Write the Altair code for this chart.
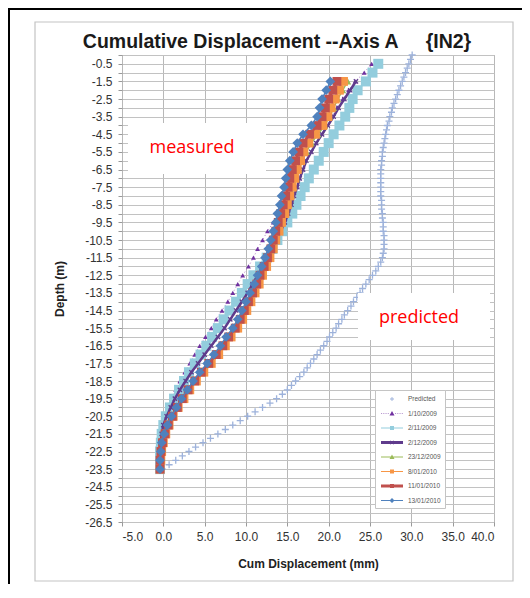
import altair as alt
import pandas as pd

# ---------------- data ----------------
SERIES = ["Predicted", "1/10/2009", "2/11/2009", "2/12/2009", "23/12/2009",
          "8/01/2010", "11/01/2010", "13/01/2010"]
COLORS = ["#9db2db", "#7030a0", "#93cddd", "#5f3b8c", "#9bbb59",
          "#f79646", "#c0504d", "#4f81bd"]

PRED_DEPTH = [0.0, -0.25, -0.5, -0.75, -1.0, -1.25, -1.5, -1.75, -2.0, -2.25,
              -2.5, -2.75, -3.0, -3.25, -3.5, -3.75, -4.0, -4.25, -4.5, -4.75,
              -5.0, -5.25, -5.5, -5.75, -6.0, -6.25, -6.5, -6.75, -7.0, -7.25,
              -7.5, -7.75, -8.0, -8.25, -8.5, -8.75, -9.0, -9.25, -9.5, -9.75,
              -10.0, -10.25, -10.5, -10.75, -11.0, -11.25, -11.5, -11.75, -12.0, -12.25,
              -12.5, -12.75, -13.0, -13.25, -13.5, -13.75, -14.0, -14.25, -14.5, -14.75,
              -15.0, -15.25, -15.5, -15.75, -16.0, -16.25, -16.5, -16.75, -17.0, -17.25,
              -17.5, -17.75, -18.0, -18.25, -18.5, -18.75, -19.0, -19.25, -19.5, -19.75,
              -20.0, -20.25, -20.5, -20.75, -21.0, -21.25, -21.5, -21.75, -22.0, -22.25,
              -22.5, -22.75, -23.0, -23.25, -23.5]
PRED_DISP = [30.1, 29.9, 29.7, 29.5, 29.3, 29.1, 28.9, 28.7, 28.5, 28.3,
             28.1, 27.9, 27.7, 27.6, 27.4, 27.3, 27.1, 27.0, 26.9, 26.8,
             26.7, 26.6, 26.5, 26.5, 26.4, 26.4, 26.3, 26.3, 26.3, 26.3,
             26.3, 26.3, 26.3, 26.4, 26.4, 26.4, 26.5, 26.5, 26.6, 26.6,
             26.6, 26.7, 26.7, 26.7, 26.7, 26.6, 26.5, 26.3, 26.0, 25.7,
             25.3, 24.9, 24.5, 24.1, 23.8, 23.4, 23.0, 22.7, 22.3, 21.9,
             21.6, 21.2, 20.9, 20.5, 20.1, 19.8, 19.4, 19.0, 18.6, 18.2,
             17.8, 17.4, 17.0, 16.5, 16.0, 15.5, 15.0, 14.4, 13.7, 12.9,
             12.0, 11.1, 10.2, 9.3, 8.4, 7.5, 6.6, 5.7, 4.8, 3.9,
             3.1, 2.3, 1.5, 0.7, -0.1]

DEPTH_FULL = [-0.5, -1.0, -1.5, -2.0, -2.5, -3.0, -3.5, -4.0, -4.5, -5.0,
              -5.5, -6.0, -6.5, -7.0, -7.5, -8.0, -8.5, -9.0, -9.5, -10.0,
              -10.5, -11.0, -11.5, -12.0, -12.5, -13.0, -13.5, -14.0, -14.5, -15.0,
              -15.5, -16.0, -16.5, -17.0, -17.5, -18.0, -18.5, -19.0, -19.5, -20.0,
              -20.5, -21.0, -21.5, -22.0, -22.5, -23.0, -23.5]
DEPTH = DEPTH_FULL[2:]

D_01OCT09 = [25.2, 24.3, 23.2, 22.4, 21.7, 21.0, 20.3, 19.5, 18.7, 17.9,
             17.2, 16.7, 16.3, 15.9, 15.5, 15.1, 14.6, 14.0, 13.3, 12.6,
             12.0, 11.4, 10.9, 10.3, 9.6, 9.0, 8.4, 7.8, 7.1, 6.4,
             5.8, 5.1, 4.4, 3.8, 3.2, 2.6, 2.0, 1.5, 1.0, 0.5,
             0.1, -0.2, -0.3, -0.4, -0.4, -0.4, -0.4]
D_02NOV09 = [26.0, 25.3, 24.5, 23.5, 22.9, 22.5, 22.0, 21.3, 20.6, 20.0,
             19.4, 18.8, 18.2, 17.6, 17.1, 16.6, 16.1, 15.6, 15.0, 14.4,
             13.8, 13.2, 12.5, 11.7, 10.9, 10.2, 9.5, 8.8, 8.0, 7.3,
             6.6, 5.9, 5.2, 4.5, 3.8, 3.1, 2.5, 1.9, 1.3, 0.8,
             0.3, 0.0, -0.2, -0.3, -0.4, -0.4, -0.4]
D_02DEC09 = [23.3, 22.6, 21.9, 21.2, 20.6, 19.9, 19.2, 18.5, 17.9, 17.3,
             16.9, 16.5, 16.2, 15.8, 15.5, 15.1, 14.7, 14.2, 13.7, 13.2,
             12.6, 12.0, 11.4, 10.8, 10.2, 9.5, 8.8, 8.1, 7.4, 6.6,
             5.8, 5.0, 4.2, 3.4, 2.7, 2.0, 1.4, 0.9, 0.4, 0.0,
             -0.2, -0.3, -0.4, -0.4, -0.4]
D_23DEC09 = [22.3, 21.7, 21.1, 20.6, 20.1, 19.5, 18.7, 17.9, 17.3, 16.8,
             16.4, 16.1, 15.8, 15.5, 15.2, 14.8, 14.4, 14.0, 13.6, 13.2,
             12.8, 12.3, 11.8, 11.3, 10.8, 10.2, 9.7, 9.1, 8.5, 7.8,
             7.1, 6.3, 5.5, 4.6, 3.8, 3.0, 2.3, 1.7, 1.1, 0.6,
             0.2, -0.1, -0.3, -0.4, -0.4]
D_08JAN10 = [21.8, 21.3, 20.8, 20.3, 19.9, 19.3, 18.4, 17.6, 17.0, 16.6,
             16.2, 15.9, 15.6, 15.3, 15.0, 14.7, 14.3, 14.0, 13.6, 13.3,
             12.9, 12.5, 12.0, 11.6, 11.1, 10.6, 10.1, 9.6, 9.0, 8.2,
             7.5, 6.7, 5.8, 4.9, 4.0, 3.2, 2.5, 1.8, 1.2, 0.7,
             0.3, 0.0, -0.2, -0.3, -0.4]
D_11JAN10 = [21.0, 20.5, 20.0, 19.6, 19.2, 18.6, 17.7, 16.9, 16.4, 16.0,
             15.6, 15.3, 15.1, 14.8, 14.5, 14.2, 13.9, 13.6, 13.3, 13.0,
             12.6, 12.2, 11.7, 11.3, 10.8, 10.3, 9.8, 9.3, 8.7, 7.9,
             7.2, 6.4, 5.5, 4.6, 3.8, 3.0, 2.3, 1.7, 1.1, 0.6,
             0.2, -0.1, -0.3, -0.4, -0.4]
D_13JAN10 = [20.2, 19.7, 19.2, 18.9, 18.6, 17.9, 16.9, 16.2, 15.7, 15.3,
             15.0, 14.8, 14.6, 14.3, 14.1, 13.8, 13.6, 13.3, 13.0, 12.7,
             12.3, 11.9, 11.4, 11.0, 10.5, 10.0, 9.5, 9.0, 8.4, 7.6,
             6.9, 6.1, 5.3, 4.4, 3.6, 2.9, 2.2, 1.6, 1.0, 0.5,
             0.1, -0.2, -0.3, -0.4, -0.4]

X_TICKS = [-5, 0, 5, 10, 15, 20, 25, 30, 35, 40]
Y_TICKS = [0.0, -0.5, -1.0, -1.5, -2.0, -2.5, -3.0, -3.5, -4.0, -4.5, -5.0, -5.5,
           -6.0, -6.5, -7.0, -7.5, -8.0, -8.5, -9.0, -9.5, -10.0, -10.5, -11.0,
           -11.5, -12.0, -12.5, -13.0, -13.5, -14.0, -14.5, -15.0, -15.5, -16.0,
           -16.5, -17.0, -17.5, -18.0, -18.5, -19.0, -19.5, -20.0, -20.5, -21.0,
           -21.5, -22.0, -22.5, -23.0, -23.5, -24.0, -24.5, -25.0, -25.5, -26.0, -26.5]

TITLE = "Cumulative Displacement --Axis A\u00a0\u00a0\u00a0\u00a0 {IN2}"
FONT = "Liberation Sans"
MINUS = "\u2212"

# ---------------- encodings ----------------
x_axis = alt.Axis(values=X_TICKS, grid=True, gridColor="#b8b8b8", domain=False,
                  tickColor="#999999", tickSize=4, labelPadding=5,
                  labelExpr=f"replace(format(datum.value, '.1f'), '{MINUS}', '-')",
                  labelFont=FONT, labelFontSize=12, labelColor="#333333",
                  title="Cum Displacement (mm)", titleFont=FONT, titleFontSize=12,
                  titleFontWeight="bold", titleColor="#222222", titlePadding=16)
y_axis = alt.Axis(values=Y_TICKS, grid=True, gridColor="#c2c2c2", domain=False,
                  tickColor="#999999", tickSize=4, labelPadding=6, labelOverlap=False,
                  labelExpr=f"(datum.value - floor(datum.value)) > 0.25 ? replace(format(datum.value, '.1f'), '{MINUS}', '-') : ''",
                  labelFont=FONT, labelFontSize=12, labelColor="#333333",
                  title="Depth (m)", titleFont=FONT, titleFontSize=12,
                  titleFontWeight="bold", titleColor="#222222", titlePadding=18)

XENC = alt.X("disp:Q", scale=alt.Scale(domain=[-5, 40], nice=False, zero=False), axis=x_axis)
YENC = alt.Y("depth:Q", scale=alt.Scale(domain=[-26.5, 0], nice=False, zero=False), axis=y_axis)


def frame(depths, values):
    return pd.DataFrame({"depth": depths, "disp": values, "ord": list(range(len(values)))})


def line(df, color, width, dash=None):
    kw = dict(color=color, strokeWidth=width)
    if dash:
        kw["strokeDash"] = dash
    return alt.Chart(df).mark_line(**kw).encode(x=XENC, y=YENC, order="ord:Q")


def pts(df, shape, color, size, filled=True, sw=1):
    return alt.Chart(df).mark_point(shape=shape, color=color, size=size, filled=filled,
                                    opacity=1, strokeWidth=sw).encode(x=XENC, y=YENC)


pred = frame(PRED_DEPTH, PRED_DISP)
s1 = frame(DEPTH_FULL, D_01OCT09)
s2 = frame(DEPTH_FULL, D_02NOV09)
s3 = frame(DEPTH, D_02DEC09)
s4 = frame(DEPTH, D_23DEC09)
s5 = frame(DEPTH, D_08JAN10)
s6 = frame(DEPTH, D_11JAN10)
s7 = frame(DEPTH, D_13JAN10)

data_layers = [
    pts(pred, "M-1,0H1M0,-1V1", COLORS[0], 49, filled=False, sw=1.3),
    line(s1, "#b07cc6", 1, dash=[1, 2.5]),
    pts(s1, "triangle-up", COLORS[1], 24),
    line(s2, COLORS[2], 1.5),
    pts(s2, "square", COLORS[2], 100),
    line(s3, COLORS[3], 2.5),
    pts(s3, "M-1,-1L1,1M-1,1L1,-1", COLORS[3], 18, filled=False, sw=1.3),
    line(s4, COLORS[4], 1.5),
    pts(s4, "triangle-up", COLORS[4], 50),
    line(s5, COLORS[5], 1.5),
    pts(s5, "square", COLORS[5], 78),
    line(s6, COLORS[6], 2.5),
    pts(s6, "square", COLORS[6], 78),
    line(s7, COLORS[7], 1.5),
    pts(s7, "diamond", COLORS[7], 95),
]

# ---------------- legend (drawn by the library's legend) ----------------
BAR = "M-2.2,-0.12H2.2V0.12H-2.2Z"
BAR_THICK = "M-2.2,-0.28H2.2V0.28H-2.2Z"
DOTS = " ".join(f"M{a:.2f},-0.07H{a + 0.22:.2f}V0.07H{a:.2f}Z" for a in [-2.2, -1.75, -1.3, -0.85, 0.6, 1.05, 1.5, 1.95])
SQ = "M-0.4,-0.4H0.4V0.4H-0.4Z"
TRI = "M0,-0.5L0.5,0.4H-0.5Z"
DIA = "M0,-0.5L0.5,0L0,0.5L-0.5,0Z"
PLUS = "M-0.4,-0.09H0.4V0.09H-0.4Z M-0.09,-0.4H0.09V0.4H-0.09Z"
XMK = "M-0.4,-0.3L-0.3,-0.4L0,-0.1L0.3,-0.4L0.4,-0.3L0.1,0L0.4,0.3L0.3,0.4L0,0.1L-0.3,0.4L-0.4,0.3L-0.1,0Z"
LEG_SHAPES = [PLUS, DOTS + " " + TRI, BAR + " " + SQ, BAR_THICK + " " + XMK,
              BAR + " " + TRI, BAR + " " + SQ, BAR_THICK + " " + SQ, BAR + " " + DIA]

legend = alt.Legend(orient="none", legendX=253, legendY=335, padding=4,
                    symbolSize=100, symbolOffset=8, labelOffset=11, rowPadding=5.5,
                    symbolStrokeWidth=0, labelFont=FONT, labelFontSize=6.5,
                    labelColor="#555555", fillColor="white", strokeColor="#c4c4c4",
                    labelLimit=120)

carrier_df = pd.DataFrame({
    "series": SERIES,
    "disp": [PRED_DISP[0], D_01OCT09[0], D_02NOV09[0], D_02DEC09[0], D_23DEC09[0],
             D_08JAN10[0], D_11JAN10[0], D_13JAN10[0]],
    "depth": [PRED_DEPTH[0], DEPTH_FULL[0], DEPTH_FULL[0], DEPTH[0], DEPTH[0],
              DEPTH[0], DEPTH[0], DEPTH[0]],
})
carrier = alt.Chart(carrier_df).mark_point(filled=True, size=0, opacity=1).encode(
    x=XENC, y=YENC,
    color=alt.Color("series:N", scale=alt.Scale(domain=SERIES, range=COLORS),
                    legend=legend, title=None),
    shape=alt.Shape("series:N", scale=alt.Scale(domain=SERIES, range=LEG_SHAPES),
                    legend=legend, title=None),
)

# ---------------- decorations ----------------
one = pd.DataFrame({"k": [0]})
panel = alt.Chart(one).mark_rect(fillOpacity=0, stroke="#c4c4c4", strokeWidth=1.2).encode(
    x=alt.value(-87), x2=alt.value(391), y=alt.value(-33), y2=alt.value(526))
frame_top = alt.Chart(one).mark_rule(color="black", strokeWidth=2).encode(
    x=alt.value(-114), x2=alt.value(400), y=alt.value(-46))
frame_left = alt.Chart(one).mark_rule(color="black", strokeWidth=2).encode(
    x=alt.value(-113), y=alt.value(-47), y2=alt.value(531))
title_txt = alt.Chart(one).mark_text(text=TITLE, font=FONT, fontSize=19.5, fontWeight="bold",
                                     color="#1a1a1a", align="center",
                                     baseline="alphabetic").encode(
    x=alt.value(155), y=alt.value(-7))

box_meas = alt.Chart(one).mark_rect(color="white").encode(
    x=alt.value(6), x2=alt.value(144), y=alt.value(68), y2=alt.value(119))
txt_meas = alt.Chart(one).mark_text(text="measured", color="#ff0000", font="Open Sans",
                                    fontSize=18, align="center", baseline="middle").encode(
    x=alt.value(70), y=alt.value(93))
box_pred = alt.Chart(one).mark_rect(color="white").encode(
    x=alt.value(236), x2=alt.value(368), y=alt.value(238), y2=alt.value(285))
txt_pred = alt.Chart(one).mark_text(text="predicted", color="#ff0000", font="Open Sans",
                                    fontSize=18, align="center", baseline="middle").encode(
    x=alt.value(297), y=alt.value(263))

chart = alt.layer(
    panel, frame_top, frame_left, title_txt, *data_layers,
    box_meas, txt_meas, box_pred, txt_pred, carrier,
).properties(
    width=372, height=467,
    padding={"left": 114, "top": 47, "right": 28, "bottom": 62},
    autosize=alt.AutoSizeParams(type="none"),
).configure_view(stroke="#9a9a9a", strokeWidth=1, fill="white")

chart.save("out.html", embed_options={"renderer": "svg", "actions": False})
